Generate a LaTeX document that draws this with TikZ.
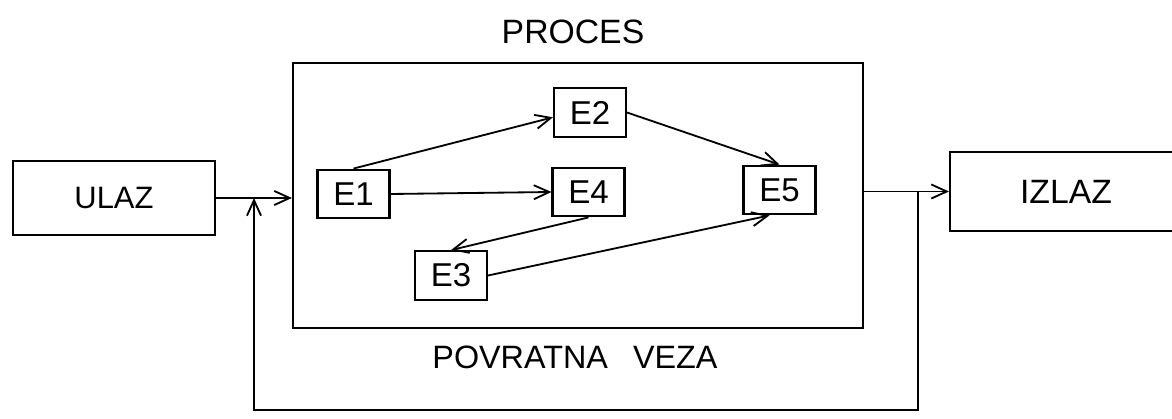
\documentclass[tikz,border=0pt]{standalone}
\usepackage{fontspec}
\setmainfont{Liberation Sans}
\usetikzlibrary{calc,arrows.meta}

\begin{document}
\begin{tikzpicture}[x=0.025cm,y=-0.025cm,
  every node/.style={font=\fontsize{22}{26}\selectfont},
  box/.style={draw,line width=1.45pt,inner sep=0pt},
  elem/.style={box,minimum width=1.8cm,minimum height=1.22cm,font=\fontsize{23.5}{27}\selectfont},
  link/.style={line width=1.3pt,-{Straight Barb[length=11pt,width=10pt,line width=1.3pt]}}]
  \useasboundingbox (0,0) rectangle (1172,419);

  %% Outer blocks
  \node[box,minimum width=5.05cm,minimum height=1.83cm] (ulaz) at (114,198) {ULAZ};
  \node[box,minimum width=14.25cm,minimum height=6.625cm] (proces) at (578,195.5) {};
  \node[box,minimum width=5.8cm,minimum height=1.98cm,font=\fontsize{24}{28}\selectfont] (izlaz) at (1066,191.5) {IZLAZ};
  \node[font=\fontsize{24}{28}\selectfont] (title) at (573,32) {PROCES};
  \node[font=\fontsize{23}{27}\selectfont] (fbtext) at (575,357) {POVRATNA\hspace{0.5em} VEZA};

  %% Elements inside the process
  \node[elem] (e1) at (353.5,194) {E1};
  \node[elem] (e2) at (590,112.5) {E2};
  \node[elem] (e4) at (588.5,192) {E4};
  \node[elem] (e5) at (779.5,190) {E5};
  \node[elem] (e3) at (451,275.5) {E3};

  \draw[link] (e1.north) -- ([yshift=-0.12cm]e2.west);
  \draw[link] (e1.east) -- (e4.west);
  \draw[link] (e2.east) -- (e5.north);
  \draw[link] (e4.south) -- (e3.north);
  \draw[link] (e3.east) -- ([xshift=-0.25cm]e5.south);

  %% Input, output and feedback
  \draw[link] (ulaz.east) -- (proces.west |- ulaz.east);
  \draw[link] (proces.east |- izlaz) -- (izlaz.west);
  \coordinate (fbout) at (918,191.5);
  \coordinate (fbin) at (254,198);
  \draw[link] (fbout) -- (918,410) -| (fbin);
\end{tikzpicture}
\end{document}
